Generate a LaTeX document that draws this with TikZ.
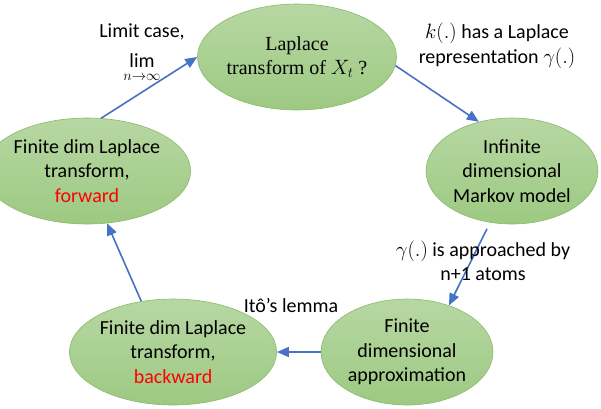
\documentclass[tikz,border=0pt]{standalone}
\usepackage{fontspec}
\setmainfont{Carlito}
\newfontfamily\cambriafont{Liberation Serif}
\usetikzlibrary{shapes.geometric}
\usetikzlibrary{arrows.meta}

\definecolor{leaftop}{HTML}{B7D7A3}
\definecolor{leafbot}{HTML}{9DC982}
\definecolor{leafline}{HTML}{8BBA6B}
\definecolor{flowblue}{HTML}{4472C4}

\tikzset{
  stage/.style={ellipse,draw=leafline,line width=0.6pt,top color=leaftop,bottom color=leafbot,
    minimum width=172pt,minimum height=106pt,inner sep=0pt,align=center,
    font=\fontsize{20}{24.5}\selectfont},
  flow/.style={flowblue,line width=1.6pt,-{Triangle[length=12pt,width=10pt]}},
  note/.style={align=center,font=\fontsize{20}{24.5}\selectfont}
}

\begin{document}
\begin{tikzpicture}[x=1pt,y=-1pt]

\useasboundingbox (0,0) rectangle (601,408);

\node[stage] (lap) at (297,57) {\cambriafont\fontsize{20}{28}\selectfont Laplace\\ \cambriafont\fontsize{20}{28}\selectfont transform of $X_t$ ?};
\node[stage] (inf) at (512,171) {Infinite\\dimensional\\Markov model};
\node[stage] (fda) at (407,352) {Finite\\dimensional\\approximation};
\node[stage] (bwd) at (173,352) {Finite dim Laplace\\transform,\\\textcolor{red}{backward}};
\node[stage] (fwd) at (87,171) {Finite dim Laplace\\transform,\\\textcolor{red}{forward}};

\draw[flow] (lap.-5) -- (inf.124);
\draw[flow,shorten <=7pt] (inf.-113) -- (fda.48);
\draw[flow] (fda.west) -- (bwd.east);
\draw[flow] (bwd.122) -- (fwd.-69);
\draw[flow] (fwd.75) -- (lap.west);

\node[note] (limit) at (142,53) {Limit case,\\[5pt]$\displaystyle\mathop{\mathrm{lim}}\limits_{\rule{0pt}{12pt}n\to\infty}$};
\node[note] (kernel) at (497,46) {$k(.)$ has a Laplace\\representation $\gamma(.)$};
\node[note] (atoms) at (483,261) {$\gamma(.)$ is approached by\\n+1 atoms};
\node[note] (ito) at (291,306) {Itô’s lemma};

\end{tikzpicture}
\end{document}
